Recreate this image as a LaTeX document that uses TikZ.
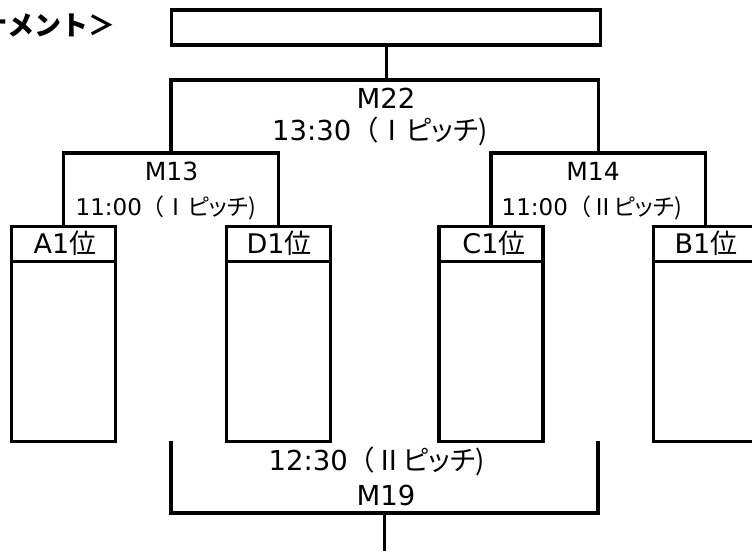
\documentclass[tikz,border=0pt]{standalone}
\usepackage{fontspec}
\usetikzlibrary{calc}
\setmainfont{DejaVu Sans}
\newfontfamily\cjk{Noto Sans CJK JP}
\newfontfamily\cjkp[RawFeature=+palt]{Noto Sans CJK JP}
\newcommand{\jp}[1]{{\cjk #1}}
\newcommand{\pitch}[1]{{\cjk （#1}{\cjkp ピッチ}{\cjk )}}
\begin{document}
\begin{tikzpicture}[x=1pt,y=-1pt,line width=3.2pt,
  head/.style={draw,minimum width=104pt,minimum height=35pt,inner sep=0pt,anchor=north,text depth=0pt},
  body/.style={draw,minimum width=104pt,minimum height=180pt,inner sep=0pt,anchor=north},
  big/.style={inner sep=0pt,anchor=base,font=\fontsize{27.5}{30}\selectfont},
  mid/.style={inner sep=0pt,anchor=base,font=\fontsize{25}{28}\selectfont},
  small/.style={inner sep=0pt,anchor=base,font=\fontsize{23}{25}\selectfont},
  teamlbl/.style={inner sep=0pt,anchor=base,font=\fontsize{27}{30}\selectfont}]
\useasboundingbox (0,0) rectangle (752,551);
\clip (0,0) rectangle (752,551);
% title
\node[inner sep=0pt,anchor=base east,font=\fontsize{27}{28}\selectfont\cjk\bfseries] (title) at (117,36) {ナメント＞};
% winner box
\node[draw,minimum width=429pt,minimum height=35pt,inner sep=0pt,anchor=north west] (win) at (170,8.5) {};
% team boxes
\foreach \n/\x in {a1/63.5, d1/278.5, c1/491, b1/705.5}{
  \node[head] (\n h) at (\x,225) {};
  \node[body] (\n b) at (\x,260) {};
}
\node[teamlbl] (a1t) at (65,253) {A1\jp{位}};
\node[teamlbl] (d1t) at (279,253) {D1\jp{位}};
\node[teamlbl] (c1t) at (494,253) {C1\jp{位}};
\node[teamlbl] (b1t) at (706,253) {B1\jp{位}};
% bracket coordinates
\coordinate (m13l) at (a1h.north |- 0,153);
\coordinate (m13r) at (d1h.north |- 0,153);
\coordinate (m14l) at (c1h.north |- 0,153);
\coordinate (m14r) at (b1h.north |- 0,153);
\coordinate (m13c) at ($(m13l)!0.5!(m13r)$);
\coordinate (m14c) at ($(m14l)!0.5!(m14r)$);
\coordinate (m22l) at (m13c |- 0,80);
\coordinate (m22r) at (m14c |- 0,80);
\coordinate (top) at (win.south |- 0,80);
% brackets
\draw (a1h.north) -- (m13l) -- (m13r) -- (d1h.north);
\draw (c1h.north) -- (m14l) -- (m14r) -- (b1h.north);
\draw (m13c) -- (m22l) -- (m22r) -- (m14c);
\draw (win.south) -- (top);
% third place bracket
\coordinate (m19lt) at (171,441);
\coordinate (m19rt) at (598,441);
\coordinate (m19lb) at (171,513);
\coordinate (m19rb) at (598,513);
\coordinate (m19c) at (384.5,513);
\coordinate (m19out) at (384.5,552);
\draw (m19lt) -- (m19lb) -- (m19rb) -- (m19rt);
\draw (m19c) -- (m19out);
% labels
\node[big] (m22) at (386,108) {M22};
\node[big] (m22t) at (380,140) {13:30\pitch{Ⅰ}};
\node[mid] (m13) at (171.5,180) {M13};
\node[small] (m13t) at (166,215) {11:00\pitch{Ⅰ}};
\node[mid] (m14) at (593,180) {M14};
\node[small] (m14t) at (592,215) {11:00\pitch{Ⅱ}};
\node[big] (m19t) at (376.5,470) {12:30\pitch{Ⅱ}};
\node[big] (m19) at (386,505) {M19};
\end{tikzpicture}
\end{document}
